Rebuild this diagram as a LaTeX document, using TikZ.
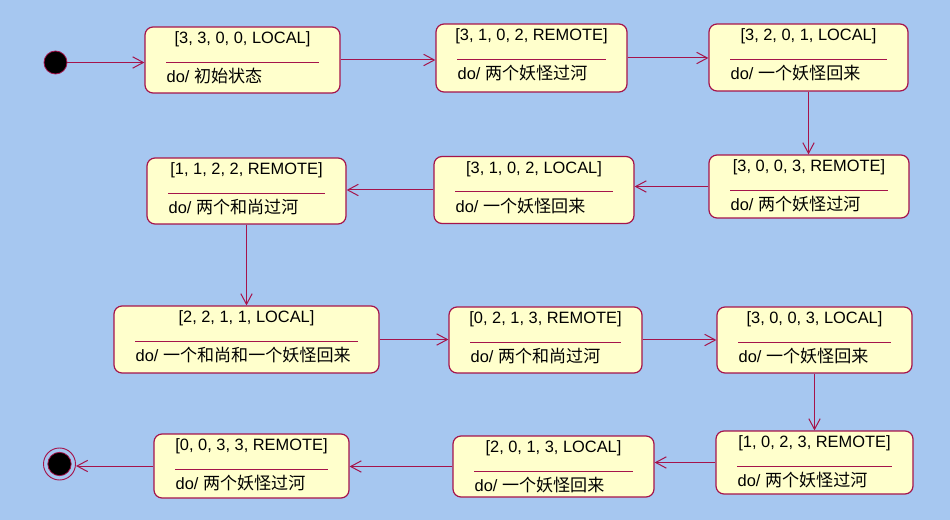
\documentclass[tikz,border=0pt]{standalone}
\usepackage{fontspec}
\setmainfont{Liberation Sans}
\newfontfamily\cjk[Scale=1.04]{Noto Sans CJK SC}
\usetikzlibrary{arrows.meta, calc}
\definecolor{umlbg}{RGB}{166,199,240}
\definecolor{umlfill}{RGB}{255,255,204}
\definecolor{umlred}{RGB}{165,20,75}

\newcommand{\umlstate}[7]{%
  \node[state box, minimum width=0.75pt*#4, minimum height=0.75pt*#5] (#1) at (#2,#3) {};
  \node[state title] (#1-title) at ($(#1.north)+(0,13)$) {#6};
  \draw[state rule] ($(#1.north west)+(22,36)$) -- ($(#1.north east)+(-22,36)$);
  \node[state do] (#1-do) at ($(#1.north west)+(22,50)$) {do/ {\cjk #7}};
}

\begin{document}
\begin{tikzpicture}[
  x=0.75pt, y=-0.75pt,
  state box/.style={rectangle, rounded corners=6pt, draw=umlred, fill=umlfill,
                    line width=0.9pt, inner sep=0pt},
  state title/.style={inner sep=0pt, font=\fontsize{12.3pt}{14pt}\selectfont},
  state do/.style={state title, anchor=west},
  state rule/.style={draw=umlred, line width=0.8pt},
  initial/.style={circle, fill=black, draw=umlred, line width=0.6pt,
                  minimum size=17.25pt, inner sep=0pt},
  final ring/.style={circle, draw=umlred, line width=0.7pt,
                     minimum size=24pt, inner sep=0pt},
  final dot/.style={initial, minimum size=17.5pt},
  trans/.style={-{Straight Barb[length=8pt, width=8.5pt]}, draw=umlred, line width=0.75pt}
]
  \fill[umlbg] (0,0) rectangle (950,520);

  \node[initial] (init) at (55.5,62.5) {};
  \node[final ring] (final) at (59.5,464) {};
  \node[final dot] (final-dot) at (final) {};

  \umlstate{s1}{242.5}{60}{195}{66}{[3, 3, 0, 0, LOCAL]}{初始状态}
  \umlstate{s2}{531.5}{58}{191}{68}{[3, 1, 0, 2, REMOTE]}{两个妖怪过河}
  \umlstate{s3}{808.5}{57.5}{199}{67}{[3, 2, 0, 1, LOCAL]}{一个妖怪回来}
  \umlstate{s4}{809}{186.5}{200}{63}{[3, 0, 0, 3, REMOTE]}{两个妖怪过河}
  \umlstate{s5}{534}{190}{200}{67}{[3, 1, 0, 2, LOCAL]}{一个妖怪回来}
  \umlstate{s6}{246.5}{191}{199}{66}{[1, 1, 2, 2, REMOTE]}{两个和尚过河}
  \umlstate{s7}{246.5}{339.5}{265}{67}{[2, 2, 1, 1, LOCAL]}{一个和尚和一个妖怪回来}
  \umlstate{s8}{545.5}{340}{193}{66}{[0, 2, 1, 3, REMOTE]}{两个和尚过河}
  \umlstate{s9}{814.5}{340}{195}{66}{[3, 0, 0, 3, LOCAL]}{一个妖怪回来}
  \umlstate{s10}{814.5}{462.5}{197}{63}{[1, 0, 2, 3, REMOTE]}{两个妖怪过河}
  \umlstate{s11}{553.5}{466.5}{201}{61}{[2, 0, 1, 3, LOCAL]}{一个妖怪回来}
  \umlstate{s12}{251.5}{466}{195}{64}{[0, 0, 3, 3, REMOTE]}{两个妖怪过河}

  \draw[trans] (init.east) -- (init.east -| s1.west);
  \draw[trans] (s1.east) -- (s1.east -| s2.west);
  \draw[trans] (s2.east) -- (s2.east -| s3.west);
  \draw[trans] (s3.south) -- (s3.south |- s4.north);
  \draw[trans] (s4.west) -- (s4.west -| s5.east);
  \draw[trans] (s5.west) -- (s5.west -| s6.east);
  \draw[trans] (s6.south) -- (s6.south |- s7.north);
  \draw[trans] (s7.east) -- (s7.east -| s8.west);
  \draw[trans] (s8.east) -- (s8.east -| s9.west);
  \draw[trans] (s9.south) -- (s9.south |- s10.north);
  \draw[trans] (s10.west) -- (s10.west -| s11.east);
  \draw[trans] (s11.west) -- (s11.west -| s12.east);
  \draw[trans] (s12.west) -- (s12.west -| final.east);
\end{tikzpicture}
\end{document}
